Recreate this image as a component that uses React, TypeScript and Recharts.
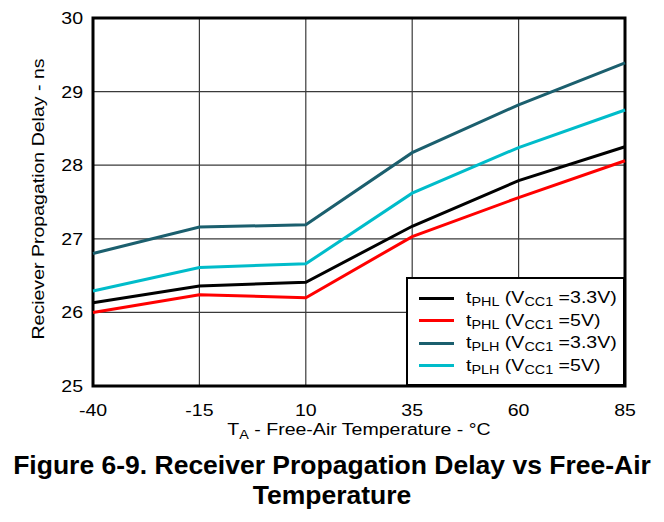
import React from "react";
import {
  LineChart,
  Line,
  XAxis,
  YAxis,
  CartesianGrid,
  Legend,
  ReferenceArea,
} from "recharts";

// Temperatures (°C) along the x axis
const temps = [-40, -15, 10, 35, 60, 85];
const yTicks = [25, 26, 27, 28, 29, 30];

// Propagation delay (ns)
const tphl33 = [26.13, 26.36, 26.41, 27.17, 27.79, 28.25];
const tphl5 = [26.0, 26.24, 26.2, 27.03, 27.56, 28.06];
const tplh33 = [26.8, 27.16, 27.19, 28.17, 28.82, 29.39];
const tplh5 = [26.29, 26.61, 26.66, 27.62, 28.24, 28.75];

type Row = { t: number; phl33: number; phl5: number; plh33: number; plh5: number };

const data: Row[] = temps.map((t, i) => ({
  t,
  phl33: tphl33[i],
  phl5: tphl5[i],
  plh33: tplh33[i],
  plh5: tplh5[i],
}));

const series = [
  { key: "phl33", color: "#000000", sub: "PHL", v: "3.3V" },
  { key: "phl5", color: "#ff0000", sub: "PHL", v: "5V" },
  { key: "plh33", color: "#1b5f6e", sub: "PLH", v: "3.3V" },
  { key: "plh5", color: "#00bcca", sub: "PLH", v: "5V" },
];

const FONT = "'Liberation Sans', Arial, Helvetica, sans-serif";
// the chart text in the original is a bit wider than plain Arial
const STRETCH = 1.15;
const FS = 17;

const subStyle: React.CSSProperties = {
  fontSize: 12.5,
  verticalAlign: "-3px",
  lineHeight: 0,
};

function LegendBox() {
  return (
    <div
      style={{
        width: 219,
        height: 109,
        boxSizing: "border-box",
        border: "2px solid #000",
        background: "#fff",
        padding: "8px 0 0 11px",
        fontFamily: FONT,
        fontSize: FS,
        color: "#000",
      }}
    >
      {series.map((s) => (
        <div key={s.key} style={{ display: "flex", alignItems: "center", height: 22.5 }}>
          <span style={{ width: 35, height: 3, background: s.color, marginRight: 12, flex: "none" }} />
          <span
            style={{
              display: "inline-block",
              whiteSpace: "nowrap",
              lineHeight: "18px",
              transform: `scaleX(${STRETCH})`,
              transformOrigin: "left center",
            }}
          >
            t<span style={subStyle}>{s.sub}</span> (V<span style={subStyle}>CC1</span> ={s.v})
          </span>
        </div>
      ))}
    </div>
  );
}

function XTick(props: any) {
  const { x, y, payload } = props;
  return (
    <text
      transform={`translate(${x},${y}) scale(${STRETCH},1)`}
      textAnchor="middle"
      dy="0.71em"
      fontFamily={FONT}
      fontSize={FS}
      fill="#000"
    >
      {payload.value}
    </text>
  );
}

function YTick(props: any) {
  const { x, y, payload } = props;
  return (
    <text
      transform={`translate(${x},${y}) scale(${STRETCH},1)`}
      textAnchor="end"
      dy="0.355em"
      fontFamily={FONT}
      fontSize={FS}
      fill="#000"
    >
      {payload.value}
    </text>
  );
}

function YLabel(props: any) {
  const vb = props.viewBox || {};
  const cx = (vb.x || 0) + 38;
  const cy = (vb.y || 0) + (vb.height || 0) / 2 - 3;
  return (
    <text
      transform={`translate(${cx},${cy}) rotate(-90) scale(${STRETCH},1)`}
      textAnchor="middle"
      dominantBaseline="central"
      fontFamily={FONT}
      fontSize={FS}
      fill="#000"
    >
      Reciever Propagation Delay - ns
    </text>
  );
}

function XLabel(props: any) {
  const vb = props.viewBox || {};
  const cx = (vb.x || 0) + (vb.width || 0) / 2;
  const by = (vb.y || 0) + 49;
  return (
    <text
      transform={`translate(${cx},${by}) scale(${STRETCH},1)`}
      textAnchor="middle"
      fontFamily={FONT}
      fontSize={FS}
      fill="#000"
    >
      T
      <tspan fontSize={12.5} dy={4}>A</tspan>
      <tspan dy={-4}> - Free-Air Temperature - °C</tspan>
    </text>
  );
}

export default function App() {
  return (
    <div
      style={{
        position: "relative",
        width: 664,
        height: 522,
        margin: -8,
        background: "#fff",
        fontFamily: FONT,
        overflow: "hidden",
      }}
    >
      <LineChart
        width={664}
        height={446}
        data={data}
        margin={{ top: 18, right: 39, left: 0, bottom: 0 }}
      >
        <CartesianGrid stroke="#3a3a3a" strokeWidth={1.2} />
        <XAxis
          dataKey="t"
          type="number"
          domain={[-40, 85]}
          ticks={temps}
          height={60}
          tickLine={false}
          axisLine={false}
          tickMargin={12}
          tick={<XTick />}
          label={<XLabel />}
        />
        <YAxis
          type="number"
          domain={[25, 30]}
          ticks={yTicks}
          width={93}
          tickLine={false}
          axisLine={false}
          tickMargin={4}
          tick={<YTick />}
          label={<YLabel />}
        />
        {series.map((s) => (
          <Line
            key={s.key}
            type="linear"
            dataKey={s.key}
            stroke={s.color}
            strokeWidth={3}
            dot={false}
            isAnimationActive={false}
          />
        ))}
        <ReferenceArea
          x1={-40}
          x2={85}
          y1={25}
          y2={30}
          fill="none"
          fillOpacity={0}
          stroke="#000"
          strokeWidth={3}
          ifOverflow="visible"
        />
        <Legend
          layout="vertical"
          verticalAlign="middle"
          align="center"
          wrapperStyle={{ left: 406, top: 277, width: 219, height: 109 }}
          content={<LegendBox />}
        />
      </LineChart>
      <div
        style={{
          position: "absolute",
          left: 0,
          top: 450,
          width: 664,
          textAlign: "center",
          fontWeight: "bold",
          fontSize: 26.5,
          lineHeight: "30px",
          color: "#000",
          whiteSpace: "nowrap",
        }}
      >
        Figure 6-9. Receiver Propagation Delay vs Free-Air
        <br />
        Temperature
      </div>
      <div
        style={{
          position: "absolute",
          inset: 0,
          boxSizing: "border-box",
          borderLeft: "2px solid #777",
          borderBottom: "2px solid #333",
          pointerEvents: "none",
        }}
      />
    </div>
  );
}
